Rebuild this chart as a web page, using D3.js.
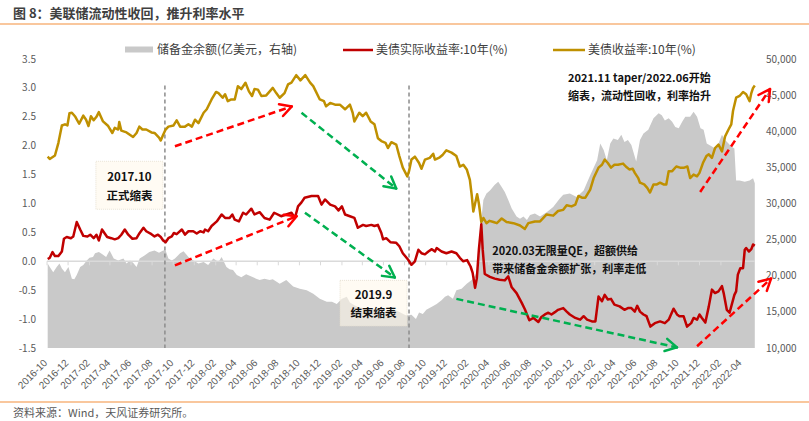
<!DOCTYPE html>
<html>
<head>
<meta charset="utf-8">
<script src="https://cdn.jsdelivr.net/npm/d3@7"></script>
<style>
	body { margin: 0; background: #fff; }
	svg { font-family: "Noto Sans CJK SC", "Noto Sans", sans-serif; }
	.tick-lbl { font-size: 10px; fill: #595959; }
	.legend text { font-size: 12px; fill: #404040; }
	.note { font-size: 11px; font-weight: bold; fill: #111; }
	.box-note { font-size: 11.5px; font-weight: bold; fill: #111; }
</style>
</head>
<body>
<svg id="chart" width="809" height="421"></svg>
<script>
"use strict";

var seriesNames = ['储备金余额(亿美元，右轴)', '美债实际收益率:10年(%)', '美债收益率:10年(%)'];
var leftTicks = [-1.5, -1.0, -0.5, 0.0, 0.5, 1.0, 1.5, 2.0, 2.5, 3.0, 3.5];
var rightTicks = [10000, 15000, 20000, 25000, 30000, 35000, 40000, 45000, 50000];

// 储备金余额, 亿美元
var reserves = [
	["2016-10-03",21700],["2016-10-09",21200],["2016-10-19",20500],["2016-10-29",21200],["2016-11-06",21700],
	["2016-11-13",21000],["2016-11-22",20500],["2016-12-02",21200],["2016-12-12",19600],["2016-12-19",19500],
	["2016-12-26",20100],["2017-01-05",21200],["2017-01-14",21500],["2017-01-24",22100],["2017-02-01",22500],
	["2017-02-11",22600],["2017-02-17",23100],["2017-02-28",23300],["2017-03-09",23000],["2017-03-21",22600],
	["2017-03-31",23500],["2017-04-12",22400],["2017-04-25",22100],["2017-05-10",22400],["2017-05-19",21700],
	["2017-05-29",22100],["2017-06-07",21800],["2017-06-17",21200],["2017-06-26",22400],["2017-07-10",22800],
	["2017-07-24",23300],["2017-08-08",23500],["2017-08-21",23200],["2017-09-02",23500],["2017-09-09",23500],
	["2017-09-17",22400],["2017-09-27",22100],["2017-10-06",22400],["2017-10-21",23100],["2017-10-31",23400],
	["2017-11-14",22600],["2017-11-28",22100],["2017-12-13",21700],["2017-12-28",21900],["2018-01-10",21500],
	["2018-01-25",22400],["2018-02-09",21900],["2018-02-18",22600],["2018-03-04",21200],["2018-03-13",20900],
	["2018-03-23",20800],["2018-04-03",20100],["2018-04-16",19800],["2018-04-30",20200],["2018-05-15",19900],
	["2018-05-29",19600],["2018-06-08",19400],["2018-06-22",19600],["2018-07-07",19400],["2018-07-16",19500],
	["2018-08-05",18900],["2018-08-24",19400],["2018-09-13",18500],["2018-10-02",18200],["2018-10-22",18000],
	["2018-11-10",17500],["2018-11-29",16800],["2018-12-19",16400],["2019-01-03",16400],["2019-01-17",16100],
	["2019-02-01",16800],["2019-02-15",17100],["2019-02-24",16300],["2019-03-09",15900],["2019-03-23",15600],
	["2019-04-12",15500],["2019-05-01",15400],["2019-05-21",15300],["2019-06-09",15000],["2019-06-29",15400],
	["2019-07-17",15000],["2019-08-06",14500],["2019-08-21",14600],["2019-09-03",14000],["2019-09-12",14900],
	["2019-09-23",14700],["2019-10-03",15300],["2019-10-19",15700],["2019-11-02",16100],["2019-11-16",16600],
	["2019-11-26",17100],["2019-12-05",17300],["2019-12-19",16800],["2019-12-29",18000],["2020-01-13",18200],
	["2020-01-28",18900],["2020-02-11",19400],["2020-02-21",20000],["2020-03-01",21000],["2020-03-10",27700],
	["2020-03-16",30500],["2020-03-25",31400],["2020-04-04",31800],["2020-04-18",32600],["2020-04-28",33000],
	["2020-05-08",32300],["2020-05-17",31600],["2020-05-27",30500],["2020-06-06",29300],["2020-06-20",28200],
	["2020-06-30",27900],["2020-07-10",28200],["2020-07-20",27700],["2020-07-29",28400],["2020-08-12",28600],
	["2020-08-27",28200],["2020-09-15",28800],["2020-10-04",29500],["2020-10-23",30700],["2020-11-02",31200],
	["2020-11-21",31400],["2020-12-11",30900],["2020-12-31",31800],["2021-01-19",33900],["2021-02-08",36000],
	["2021-02-17",38300],["2021-02-27",37400],["2021-03-08",36000],["2021-03-18",38300],["2021-03-27",39000],
	["2021-04-09",38800],["2021-04-19",39500],["2021-04-28",38500],["2021-05-08",38800],["2021-05-18",38100],
	["2021-06-01",35800],["2021-06-12",38800],["2021-06-22",39700],["2021-07-06",40200],["2021-07-21",41800],
	["2021-08-05",42500],["2021-08-14",42200],["2021-08-23",41500],["2021-09-03",41800],["2021-09-13",41300],
	["2021-09-22",40600],["2021-10-02",40400],["2021-10-12",41300],["2021-10-21",42000],["2021-11-04",42000],
	["2021-11-14",42700],["2021-11-24",42000],["2021-12-04",40400],["2021-12-13",40200],["2021-12-22",38300],
	["2022-01-06",37900],["2022-01-15",37600],["2022-01-25",38300],["2022-02-04",39500],["2022-02-13",38800],
	["2022-02-23",38300],["2022-03-03",37900],["2022-03-12",37600],["2022-03-17",33200],["2022-03-27",33200],
	["2022-04-11",33000],["2022-04-25",33200],["2022-05-05",33500],["2022-05-10",32800]
];

// 美债实际收益率:10年, %
var realYield = [
	["2016-10-03",0.04],["2016-10-09",0.06],["2016-10-17",0.16],["2016-10-24",0.09],["2016-11-03",0.09],
	["2016-11-13",0.17],["2016-11-19",0.39],["2016-11-27",0.42],["2016-12-09",0.40],["2016-12-16",0.43],
	["2016-12-26",0.68],["2017-01-05",0.55],["2017-01-14",0.44],["2017-01-26",0.43],["2017-02-03",0.46],
	["2017-02-13",0.40],["2017-02-21",0.46],["2017-02-28",0.36],["2017-03-09",0.55],["2017-03-24",0.42],
	["2017-04-05",0.40],["2017-04-15",0.38],["2017-04-25",0.40],["2017-05-04",0.46],["2017-05-14",0.55],
	["2017-05-24",0.46],["2017-06-05",0.39],["2017-06-17",0.40],["2017-06-26",0.49],["2017-07-07",0.58],
	["2017-07-15",0.52],["2017-07-30",0.47],["2017-08-08",0.43],["2017-08-18",0.46],["2017-08-26",0.42],
	["2017-09-02",0.36],["2017-09-09",0.33],["2017-09-17",0.40],["2017-09-27",0.43],["2017-10-03",0.49],
	["2017-10-11",0.47],["2017-10-26",0.55],["2017-11-04",0.46],["2017-11-14",0.52],["2017-11-28",0.52],
	["2017-12-08",0.48],["2017-12-18",0.52],["2017-12-28",0.50],["2018-01-01",0.55],["2018-01-10",0.52],
	["2018-01-20",0.61],["2018-02-04",0.69],["2018-02-18",0.81],["2018-02-28",0.75],["2018-03-13",0.75],
	["2018-03-21",0.81],["2018-03-28",0.72],["2018-04-09",0.69],["2018-04-21",0.84],["2018-04-30",0.81],
	["2018-05-15",0.91],["2018-05-24",0.81],["2018-06-08",0.85],["2018-06-22",0.75],["2018-07-07",0.72],
	["2018-07-20",0.84],["2018-08-09",0.78],["2018-08-24",0.81],["2018-09-08",0.84],["2018-09-18",0.75],
	["2018-09-27",0.95],["2018-10-07",1.02],["2018-10-16",1.10],["2018-11-05",1.13],["2018-11-15",1.13],
	["2018-11-24",1.13],["2018-12-04",0.98],["2018-12-14",1.07],["2018-12-29",0.98],["2019-01-12",0.95],
	["2019-01-22",0.88],["2019-02-01",0.95],["2019-02-10",0.81],["2019-02-24",0.78],["2019-03-09",0.75],
	["2019-03-19",0.58],["2019-04-03",0.63],["2019-04-12",0.61],["2019-04-27",0.63],["2019-05-06",0.61],
	["2019-05-16",0.63],["2019-05-26",0.49],["2019-05-31",0.38],["2019-06-09",0.40],["2019-06-21",0.33],
	["2019-07-08",0.32],["2019-07-17",0.26],["2019-07-27",0.14],["2019-08-11",0.03],["2019-08-21",-0.06],
	["2019-08-31",0.00],["2019-09-10",0.20],["2019-09-19",0.14],["2019-09-29",0.12],["2019-10-09",0.17],
	["2019-10-19",0.21],["2019-10-28",0.17],["2019-11-02",0.23],["2019-11-16",0.17],["2019-11-30",0.14],
	["2019-12-15",0.17],["2019-12-29",0.14],["2020-01-08",0.06],["2020-01-18",0.00],["2020-01-29",0.02],
	["2020-02-08",-0.09],["2020-02-14",-0.20],["2020-02-21",-0.46],["2020-02-26",-0.30],["2020-03-03",0.20],
	["2020-03-10",0.64],["2020-03-14",0.21],["2020-03-20",-0.22],["2020-04-04",-0.27],["2020-04-18",-0.30],
	["2020-05-02",-0.32],["2020-05-17",-0.33],["2020-05-27",-0.26],["2020-06-06",-0.45],["2020-06-20",-0.55],
	["2020-07-05",-0.72],["2020-07-14",-0.83],["2020-07-27",-1.02],["2020-08-08",-0.98],["2020-08-22",-1.05],
	["2020-08-30",-0.97],["2020-09-10",-0.92],["2020-09-20",-0.89],["2020-09-29",-0.92],["2020-10-09",-0.88],
	["2020-10-18",-0.84],["2020-11-02",-0.81],["2020-11-12",-0.87],["2020-11-21",-0.92],["2020-12-07",-0.98],
	["2020-12-21",-1.01],["2020-12-31",-0.95],["2021-01-10",-1.01],["2021-01-24",-1.04],["2021-02-03",-1.04],
	["2021-02-12",-0.61],["2021-02-22",-0.69],["2021-03-02",-0.58],["2021-03-11",-0.66],["2021-03-20",-0.65],
	["2021-03-30",-0.75],["2021-04-14",-0.78],["2021-04-28",-0.84],["2021-05-08",-0.81],["2021-05-18",-0.81],
	["2021-05-28",-0.87],["2021-06-04",-0.77],["2021-06-12",-0.87],["2021-06-22",-0.92],["2021-07-01",-0.95],
	["2021-07-12",-1.13],["2021-07-25",-1.07],["2021-08-09",-1.04],["2021-08-23",-1.07],["2021-09-03",-1.01],
	["2021-09-17",-0.82],["2021-09-27",-0.92],["2021-10-04",-0.95],["2021-10-16",-0.95],["2021-10-26",-1.13],
	["2021-11-07",-1.07],["2021-11-14",-0.98],["2021-11-24",-1.01],["2021-12-01",-0.92],["2021-12-08",-0.98],
	["2021-12-18",-1.06],["2021-12-28",-0.78],["2022-01-06",-0.49],["2022-01-15",-0.55],["2022-01-25",-0.52],
	["2022-02-04",-0.43],["2022-02-09",-0.55],["2022-02-18",-0.84],["2022-02-26",-0.89],["2022-03-03",-0.78],
	["2022-03-12",-0.58],["2022-03-17",-0.52],["2022-03-22",-0.23],["2022-03-29",-0.12],["2022-04-06",-0.12],
	["2022-04-11",0.20],["2022-04-15",0.23],["2022-04-23",0.17],["2022-04-30",0.21],["2022-05-05",0.29],
	["2022-05-10",0.27]
];

// 美债收益率:10年, %
var nominalYield = [
	["2016-10-03",1.81],["2016-10-09",1.77],["2016-10-24",1.83],["2016-11-03",2.05],["2016-11-13",2.35],
	["2016-11-22",2.37],["2016-11-29",2.35],["2016-12-05",2.56],["2016-12-12",2.57],["2016-12-22",2.50],
	["2017-01-02",2.38],["2017-01-14",2.52],["2017-01-22",2.45],["2017-01-29",2.34],["2017-02-05",2.51],
	["2017-02-13",2.44],["2017-02-21",2.50],["2017-02-28",2.58],["2017-03-12",2.42],["2017-03-27",2.34],
	["2017-04-08",2.22],["2017-04-15",2.31],["2017-04-25",2.28],["2017-04-28",2.41],["2017-05-04",2.26],
	["2017-05-19",2.23],["2017-06-07",2.15],["2017-06-17",2.22],["2017-06-25",2.33],["2017-07-04",2.28],
	["2017-07-15",2.28],["2017-07-30",2.23],["2017-08-08",2.22],["2017-08-21",2.14],["2017-08-26",2.09],
	["2017-09-02",2.19],["2017-09-09",2.28],["2017-09-17",2.33],["2017-10-02",2.35],["2017-10-11",2.44],
	["2017-10-21",2.33],["2017-11-04",2.33],["2017-11-14",2.37],["2017-11-24",2.33],["2017-12-03",2.45],
	["2017-12-13",2.39],["2017-12-28",2.57],["2018-01-06",2.63],["2018-01-20",2.80],["2018-02-02",2.93],
	["2018-02-09",2.91],["2018-02-21",2.83],["2018-02-28",2.89],["2018-03-08",2.77],["2018-03-18",2.80],
	["2018-03-28",2.80],["2018-04-06",3.03],["2018-04-16",2.98],["2018-04-28",3.09],["2018-05-08",2.94],
	["2018-05-17",2.86],["2018-05-24",2.98],["2018-06-03",2.97],["2018-06-13",2.86],["2018-06-27",2.87],
	["2018-07-16",3.00],["2018-07-26",2.91],["2018-08-05",2.83],["2018-08-19",2.91],["2018-08-29",3.06],
	["2018-09-08",3.09],["2018-09-22",3.22],["2018-10-04",3.13],["2018-10-18",3.22],["2018-11-01",3.09],
	["2018-11-10",3.03],["2018-11-29",2.80],["2018-12-11",2.77],["2018-12-17",2.68],["2018-12-29",2.74],
	["2019-01-12",2.71],["2019-01-26",2.71],["2019-02-10",2.63],["2019-02-24",2.71],["2019-03-04",2.57],
	["2019-03-09",2.42],["2019-03-23",2.57],["2019-04-02",2.51],["2019-04-12",2.57],["2019-04-25",2.42],
	["2019-05-06",2.37],["2019-05-16",2.13],["2019-05-26",2.08],["2019-06-07",2.05],["2019-06-14",1.96],
	["2019-06-24",2.06],["2019-07-08",2.02],["2019-07-17",1.82],["2019-07-27",1.62],["2019-08-09",1.47],
	["2019-08-14",1.56],["2019-08-21",1.76],["2019-08-31",1.81],["2019-09-12",1.70],["2019-09-19",1.60],
	["2019-09-29",1.76],["2019-10-13",1.79],["2019-10-23",1.86],["2019-10-28",1.76],["2019-11-11",1.80],
	["2019-11-19",1.84],["2019-11-30",1.92],["2019-12-15",1.88],["2019-12-29",1.82],["2020-01-08",1.64],
	["2020-01-18",1.67],["2020-01-28",1.59],["2020-02-06",1.41],["2020-02-11",1.16],["2020-02-16",0.86],
	["2020-02-27",1.16],["2020-03-03",1.00],["2020-03-10",0.68],["2020-03-16",0.75],["2020-03-25",0.66],
	["2020-04-03",0.70],["2020-04-14",0.68],["2020-04-24",0.66],["2020-05-08",0.74],["2020-05-22",0.68],
	["2020-06-11",0.66],["2020-06-30",0.62],["2020-07-14",0.56],["2020-07-24",0.66],["2020-08-12",0.69],
	["2020-08-27",0.69],["2020-09-15",0.81],["2020-10-04",0.79],["2020-10-18",0.87],["2020-11-02",0.89],
	["2020-11-12",0.97],["2020-11-26",0.95],["2020-12-07",0.98],["2020-12-16",1.13],["2020-12-26",1.10],
	["2021-01-05",1.10],["2021-01-19",1.24],["2021-01-29",1.44],["2021-02-12",1.62],["2021-02-22",1.67],
	["2021-03-02",1.76],["2021-03-11",1.70],["2021-03-20",1.62],["2021-03-30",1.67],["2021-04-09",1.67],
	["2021-04-24",1.69],["2021-05-02",1.64],["2021-05-12",1.59],["2021-05-22",1.60],["2021-05-28",1.53],
	["2021-06-07",1.44],["2021-06-12",1.36],["2021-06-24",1.33],["2021-07-03",1.27],["2021-07-11",1.19],
	["2021-07-21",1.33],["2021-07-31",1.33],["2021-08-09",1.36],["2021-08-19",1.33],["2021-08-27",1.33],
	["2021-09-03",1.56],["2021-09-13",1.56],["2021-09-25",1.64],["2021-10-06",1.62],["2021-10-18",1.62],
	["2021-10-27",1.64],["2021-11-04",1.44],["2021-11-14",1.50],["2021-11-24",1.47],["2021-12-01",1.53],
	["2021-12-11",1.70],["2021-12-21",1.82],["2021-12-28",1.85],["2022-01-06",1.79],["2022-01-15",1.96],
	["2022-01-25",2.02],["2022-02-04",1.90],["2022-02-13",2.16],["2022-02-23",2.28],["2022-03-03",2.37],
	["2022-03-08",2.60],["2022-03-17",2.83],["2022-03-27",2.86],["2022-04-06",2.93],["2022-04-15",2.89],
	["2022-04-25",2.77],["2022-04-30",2.91],["2022-05-05",3.00],["2022-05-10",3.04]
];

// 缩表起止
var qtMarks = ["2017-09-07", "2019-08-14"];
var qtLabels = [["2017.10", "正式缩表"], ["2019.9", "结束缩表"]];
var qeNote = ["2020.03无限量QE，超额供给", "带来储备金余额扩张，利率走低"];
var taperNote = ["2021.11 taper/2022.06开始", "缩表，流动性回收，利率抬升"];

var parseDate = d3.timeParse('%Y-%m-%d');
var svg = d3.select('#chart');

var x = d3.scaleTime().domain([parseDate('2016-10-01'), parseDate('2022-06-01')]).range([47, 762.4]);
var yL = d3.scaleLinear().domain([-1.5, 3.5]).range([348, 59]);
var yR = d3.scaleLinear().domain([10000, 50000]).range([348, 59]);
var plotRight = 755;

function drawArrow(parent, p0, p1, color) {
	var x0 = x(parseDate(p0[0])), y0 = yL(p0[1]),
		x1 = x(parseDate(p1[0])), y1 = yL(p1[1]);
	var ang = Math.atan2(y1 - y0, x1 - x0), len = 13, spread = 0.5;

	parent.append('line').attr('x1', x0).attr('y1', y0).attr('x2', x1).attr('y2', y1).
		attr('stroke', color).attr('stroke-width', 2.5).attr('stroke-dasharray', '7,4');

	// Open V head
	[ang + Math.PI - spread, ang + Math.PI + spread].forEach(function(a) {
		parent.append('line').attr('x1', x1).attr('y1', y1).
			attr('x2', x1 + len * Math.cos(a)).attr('y2', y1 + len * Math.sin(a)).
			attr('stroke', color).attr('stroke-width', 2.5).attr('stroke-linecap', 'round');
	});
} // end function drawArrow(...)

function drawNote(parent, px, py, lines, lineGap) {
	lines.forEach(function(t, i) {
		parent.append('text').attr('class', 'note').attr('x', px).attr('y', py + i * lineGap).
			attr('dy', '0.35em').text(t);
	});
} // end function drawNote(...)

// Title and frame lines
svg.append('text').attr('x', 13).attr('y', 13).attr('dy', '0.35em').
	style('font-size', '13px').style('font-weight', 'bold').style('fill', '#404040').
	text('图 8：美联储流动性收回，推升利率水平');
svg.append('line').attr('x1', 0).attr('x2', 809).attr('y1', 24).attr('y2', 24).
	attr('stroke', '#f7b57c').attr('stroke-width', 1.5);
svg.append('line').attr('x1', 0).attr('x2', 809).attr('y1', 402).attr('y2', 402).
	attr('stroke', '#f7b57c').attr('stroke-width', 1.5);
svg.append('text').attr('x', 13).attr('y', 413).attr('dy', '0.35em').
	style('font-size', '11px').style('fill', '#595959').text('资料来源：Wind，天风证券研究所。');

// Reserves area (right axis)
var area = d3.area().x(function(d) { return x(parseDate(d[0])); }).
	y0(yR(10000)).y1(function(d) { return yR(d[1]); });
svg.append('path').datum(reserves).attr('d', area).attr('fill', '#c9c9c9');

// Zero axis with tick marks
var tickDates = d3.timeMonth.range(parseDate('2016-10-01'), parseDate('2022-05-15'), 2);
var zeroAxis = svg.append('g').attr('transform', 'translate(0,' + yL(0) + ')');
zeroAxis.append('line').attr('x1', x.range()[0]).attr('x2', plotRight).
	attr('stroke', '#dadada').attr('stroke-width', 1.5);
zeroAxis.selectAll('line.tk').data(tickDates).enter().append('line').attr('class', 'tk').
	attr('x1', function(d) { return x(d); }).attr('x2', function(d) { return x(d); }).
	attr('y1', 0).attr('y2', 4).attr('stroke', '#dadada').attr('stroke-width', 1);

// Date labels at the bottom
var xAxis = d3.axisBottom(x).tickValues(tickDates).tickFormat(d3.timeFormat('%Y-%m')).tickSize(0);
var gx = svg.append('g').attr('transform', 'translate(0,' + yR(10000) + ')').call(xAxis);
gx.select('.domain').remove();
gx.selectAll('text').attr('class', 'tick-lbl').attr('x', 0).attr('y', 0).attr('dy', '0.35em').
	attr('text-anchor', 'end').attr('transform', 'translate(-2,13) rotate(-45)');

// Left and right value labels
svg.append('g').selectAll('text').data(leftTicks).enter().append('text').attr('class', 'tick-lbl').
	attr('x', 36).attr('y', function(d) { return yL(d); }).attr('dy', '0.35em').
	attr('text-anchor', 'end').text(function(d) { return d.toFixed(1); });
svg.append('g').selectAll('text').data(rightTicks).enter().append('text').attr('class', 'tick-lbl').
	attr('x', 766).attr('y', function(d) { return yR(d); }).attr('dy', '0.35em').
	attr('text-anchor', 'start').text(d3.format(','));

// QT start / end markers
qtMarks.forEach(function(m) {
	var mx = x(parseDate(m));
	svg.append('line').attr('x1', mx).attr('x2', mx).attr('y1', yL(3.04)).attr('y2', yL(-1.5)).
		attr('stroke', '#8c8c8c').attr('stroke-width', 1.5).attr('stroke-dasharray', '4,3');
});

// Yield lines
var line = d3.line().x(function(d) { return x(parseDate(d[0])); }).y(function(d) { return yL(d[1]); });
svg.append('path').datum(nominalYield).attr('d', line).attr('fill', 'none').
	attr('stroke', '#bf9000').attr('stroke-width', 2.5).attr('stroke-linejoin', 'round');
svg.append('path').datum(realYield).attr('d', line).attr('fill', 'none').
	attr('stroke', '#c00000').attr('stroke-width', 2.5).attr('stroke-linejoin', 'round');

// Annotation boxes next to the markers
var boxes = [[1.73, 0.90], [-0.33, -1.12]];
qtMarks.forEach(function(m, i) {
	var right = x(parseDate(m)) - 2, left = right - 67;
	var top = yL(boxes[i][0]), bot = yL(boxes[i][1]);
	var g = svg.append('g');
	g.append('rect').attr('x', left).attr('y', top).attr('width', right - left).attr('height', bot - top).
		attr('fill', 'rgba(255,249,235,0.6)').attr('stroke', '#e3dccb').attr('stroke-width', 0.8).
		attr('stroke-dasharray', '1,1');
	qtLabels[i].forEach(function(t, j) {
		g.append('text').attr('class', 'box-note').attr('x', (left + right) / 2).
			attr('y', top + (bot - top) * (j === 0 ? 0.32 : 0.72)).attr('dy', '0.35em').
			attr('text-anchor', 'middle').text(t);
	});
});

// Trend arrows
var arrows = svg.append('g');
drawArrow(arrows, ['2017-10-06', 1.99], ['2018-09-09', 2.68], '#ff0000');
drawArrow(arrows, ['2017-10-06', -0.07], ['2018-09-23', 0.78], '#ff0000');
drawArrow(arrows, ['2018-10-07', 2.57], ['2019-07-08', 1.26], '#00b050');
drawArrow(arrows, ['2018-10-17', 0.84], ['2019-07-04', -0.28], '#00b050');
drawArrow(arrows, ['2019-12-29', -0.65], ['2021-09-27', -1.49], '#00b050');
drawArrow(arrows, ['2021-12-03', 1.20], ['2022-06-23', 2.98], '#ff0000');
drawArrow(arrows, ['2021-11-24', -1.47], ['2022-06-26', -0.30], '#ff0000');

// Text notes
drawNote(svg, x(parseDate('2020-04-11')), yL(0.18), qeNote, 18.5);
drawNote(svg, x(parseDate('2020-11-16')), yL(3.17), taperNote, 18.5);

// Legend
var legend = svg.append('g').attr('class', 'legend');
legend.append('rect').attr('x', 125).attr('y', 46.5).attr('width', 28).attr('height', 6).attr('fill', '#c9c9c9');
legend.append('line').attr('x1', 343).attr('x2', 373).attr('y1', 50).attr('y2', 50).
	attr('stroke', '#c00000').attr('stroke-width', 2.5);
legend.append('line').attr('x1', 553).attr('x2', 585).attr('y1', 50).attr('y2', 50).
	attr('stroke', '#bf9000').attr('stroke-width', 2.5);
[157, 376, 588].forEach(function(lx, i) {
	legend.append('text').attr('x', lx).attr('y', 50).attr('dy', '0.35em').text(seriesNames[i]);
});
</script>
</body>
</html>
